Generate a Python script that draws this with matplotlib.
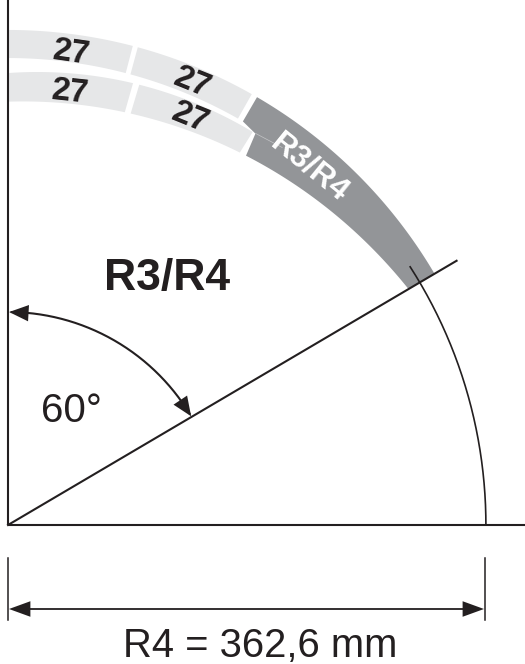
import matplotlib
matplotlib.use("Agg")
import matplotlib.pyplot as plt
import numpy as np

plt.rcParams["font.family"] = ["Liberation Sans", "DejaVu Sans"]

INK = "#231f20"
LIGHT = "#e6e7e8"
DARK = "#939598"

PX_PER_MM = 1.318

R4 = 362.6
LINE_ANGLE = 59.5       # angle from the vertical, as drawn
ARC_END = 57.3
ANGLE_ARC_R = 161.6

# band radii in mm
UPPER_OUTER = 375.6
UPPER_INNER = 354.3
LOWER_OUTER_ANGLES = [0, 15.5, 32]
LOWER_OUTER_RADII = [342.9, 348.3, 351.3]
LOWER_INNER_ANGLES = [0, 16, 32, 59.5]
LOWER_INNER_RADII = [320.9, 326.3, 332.3, 352.8]

# segment ends (start, end) in degrees from the vertical
UPPER_SEGMENTS = [(0, 14.6), (15.2, 29.5)]
LOWER_SEGMENTS = [(0, 15.8), (16.6, 31.9)]
DARK_START_UPPER = 30.2
DARK_START_LOWER = 32.8

LABELS_27 = ["27", "27", "27", "27"]
LABEL_27_X = [71, 70, 192, 190]
LABEL_27_Y = [53, 92, 83, 118]
LABEL_27_ROT = [-8, -6, -22, -22]

lo_fit = np.polyfit(LOWER_OUTER_ANGLES, LOWER_OUTER_RADII, 2)
li_fit = np.polyfit(LOWER_INNER_ANGLES, LOWER_INNER_RADII, 2)


def pol(theta, r):
    t = np.radians(theta)
    return r * np.sin(t), r * np.cos(t)


def px(x, y):
    # picture pixel -> mm coordinates
    return (x - 8) / PX_PER_MM, (525 - y) / PX_PER_MM


def band(ax, a, b, outer, inner, color):
    th = np.linspace(a, b, 80)
    xo, yo = pol(th, outer(th))
    xi, yi = pol(th[::-1], inner(th[::-1]))
    ax.fill(np.r_[xo, xi], np.r_[yo, yi], color=color, lw=0, zorder=1)


fig = plt.figure(figsize=(5.25, 6.64), dpi=100)
ax = fig.add_axes([0, 0, 1, 1])
ax.set_xlim(-8 / PX_PER_MM, 517 / PX_PER_MM)
ax.set_ylim(-139 / PX_PER_MM, 525 / PX_PER_MM)
ax.axis("off")

up_o = lambda t: np.full_like(t, UPPER_OUTER)
up_i = lambda t: np.full_like(t, UPPER_INNER)
lo_o = lambda t: np.polyval(lo_fit, t)
lo_i = lambda t: np.polyval(li_fit, t)

for a, b in UPPER_SEGMENTS:
    band(ax, a, b, up_o, up_i, LIGHT)
for a, b in LOWER_SEGMENTS:
    band(ax, a, b, lo_o, lo_i, LIGHT)

# dark end piece runs up to the 60 degree line
th_o = np.linspace(DARK_START_UPPER, LINE_ANGLE, 100)
th_i = np.linspace(LINE_ANGLE, DARK_START_LOWER, 100)
xo, yo = pol(th_o, UPPER_OUTER)
xi, yi = pol(th_i, lo_i(th_i))
x1, y1 = pol(32.3, 351.3)
x2, y2 = pol(DARK_START_UPPER, UPPER_INNER)
ax.fill(np.r_[xo, xi, x1, x2], np.r_[yo, yi, y1, y2], color=DARK, lw=0, zorder=1)
sx, sy = zip(pol(32.3, 351.5), pol(36, 354))
ax.plot(sx, sy, color="#c4c5c7", lw=0.5, zorder=2)

lw = 1.5
# axes
ax.plot([0, 0], [0, 525 / PX_PER_MM], color=INK, lw=lw, zorder=3, solid_capstyle="butt")
ax.plot([0, 517 / PX_PER_MM], [0, 0], color=INK, lw=lw, zorder=3, solid_capstyle="butt")
lx, ly = pol(LINE_ANGLE, 395.0)
ax.plot([0, lx], [0, ly], color=INK, lw=lw, zorder=3)

# R4 arc
th = np.linspace(ARC_END, 90, 150)
ax.plot(*pol(th, R4), color=INK, lw=1.2, zorder=3)

# angle arc with arrowheads
th = np.linspace(1, LINE_ANGLE - 1, 150)
ax.plot(*pol(th, ANGLE_ARC_R), color=INK, lw=lw, zorder=3)
head = dict(arrowstyle="-|>,head_length=1.0,head_width=0.42", color=INK, lw=0,
            shrinkA=0, shrinkB=0, mutation_scale=14)
ax.annotate("", xy=pol(0.3, ANGLE_ARC_R), xytext=pol(6.5, ANGLE_ARC_R), arrowprops=head, zorder=4)
ax.annotate("", xy=pol(LINE_ANGLE - 0.2, ANGLE_ARC_R), xytext=pol(LINE_ANGLE - 6.5, ANGLE_ARC_R),
            arrowprops=head, zorder=4)

# dimension line
ax.plot(*zip(px(8, 558), px(8, 620)), color=INK, lw=1.1)
ax.plot(*zip(px(484.5, 558), px(484.5, 620)), color=INK, lw=1.1)
ax.plot(*zip(px(20, 609), px(472, 609)), color=INK, lw=1.3)
dim_head = dict(arrowstyle="-|>,head_length=1.1,head_width=0.4", color=INK, lw=0,
                shrinkA=0, shrinkB=0, mutation_scale=14)
ax.annotate("", xy=px(9, 609), xytext=px(40, 609), arrowprops=dim_head, zorder=4)
ax.annotate("", xy=px(484, 609), xytext=px(453, 609), arrowprops=dim_head, zorder=4)

# text
for s, x, y, r in zip(LABELS_27, LABEL_27_X, LABEL_27_Y, LABEL_27_ROT):
    ax.text(*px(x, y), s, fontsize=24, fontweight="bold", color=INK, rotation=r,
            ha="center", va="center", rotation_mode="anchor", zorder=5)
ax.text(*px(309, 168), "R3/R4", fontsize=23, fontweight="bold", color="white", rotation=-39,
        ha="center", va="center", rotation_mode="anchor", zorder=5)
ax.text(*px(167, 290), "R3/R4", fontsize=32, fontweight="bold", color=INK, ha="center", va="baseline")
ax.text(*px(41, 422), "60°", fontsize=29, color=INK, ha="left", va="baseline")
ax.text(*px(260, 657), "R4 = 362,6 mm", fontsize=28.8, color=INK, ha="center", va="baseline")

fig.savefig("out.png", dpi=100)
